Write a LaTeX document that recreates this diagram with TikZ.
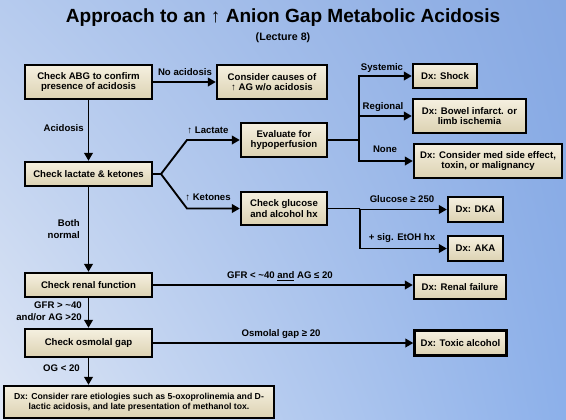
\documentclass[tikz,border=0pt]{standalone}
\usepackage{fontspec}
\setmainfont{Liberation Sans}
\usetikzlibrary{arrows.meta,shadows,shadings,positioning}

\definecolor{bgUL}{HTML}{B6CBEE}
\definecolor{bgUR}{HTML}{86A8E2}
\definecolor{bgLL}{HTML}{DFE7F5}
\definecolor{bgLR}{HTML}{8CB0EA}
\definecolor{boxtop}{HTML}{F5F0E0}
\definecolor{boxbot}{HTML}{DCD2B2}

\newcommand{\dxfont}{\bfseries\fontsize{7.2}{8}\selectfont}
\newcommand{\rarefont}{\bfseries\fontsize{6.5}{7.6}\selectfont}

\tikzset{
  wh/.style 2 args={minimum width=#1*0.75pt, minimum height=#2*0.75pt},
  dxbox/.style={draw=black, line width=1.8pt, top color=boxtop, bottom color=boxbot,
    align=center, inner sep=0pt, font=\dxfont,
    drop shadow={shadow xshift=1pt, shadow yshift=-1pt, opacity=0.3}},
  lbl/.style={inner sep=0pt, align=center, font=\bfseries\fontsize{7.2}{8.6}\selectfont},
  link/.style={line width=1.4pt},
  flow/.style={line width=1.4pt, -{Triangle[length=6pt,width=6.5pt]}},
}

\begin{document}
\begin{tikzpicture}[x=0.75pt, y=-0.75pt]
    \useasboundingbox (0,0) rectangle (566,419);
    \shade[upper left=bgUL, upper right=bgUR, lower left=bgLL, lower right=bgLR] (0,0) rectangle (566,419);

    % title
    \node[font=\bfseries\fontsize{14.3}{16}\selectfont] (title) at (283,17.5) {Approach to an ↑ Anion Gap Metabolic Acidosis};
    \node[font=\bfseries\fontsize{8}{9}\selectfont] (lecture) at (283,38) {(Lecture 8)};

    % boxes
    \node[dxbox, wh={127}{34}] (abg) at (88.5,82) {Check ABG to confirm\\presence of acidosis};
    \node[dxbox, wh={110}{34}] (noacid) at (272,82) {Consider causes of\\↑ AG w/o acidosis};
    \node[dxbox, wh={127}{24}] (lacket) at (88.5,174) {Check lactate \& ketones};
    \node[dxbox, wh={86}{34}] (hypo) at (284,140) {Evaluate for\\hypoperfusion};
    \node[dxbox, wh={86}{33}] (gluc) at (284,208.5) {Check glucose\\and alcohol hx};
    \node[dxbox, wh={64}{24}] (shock) at (445,76) {Dx: Shock};
    \node[dxbox, wh={113}{34}] (bowel) at (469.5,116) {Dx: Bowel infarct. or\\limb ischemia};
    \node[dxbox, wh={148}{34}] (medfx) at (488,161) {Dx: Consider med side effect,\\toxin, or malignancy};
    \node[dxbox, wh={55}{25}] (dka) at (475.5,209.5) {Dx: DKA};
    \node[dxbox, wh={55}{25}] (aka) at (475.5,248.5) {Dx: AKA};
    \node[dxbox, wh={127}{24}] (renal) at (88.5,285) {Check renal function};
    \node[dxbox, wh={92}{24}] (renalfx) at (460,287) {Dx: Renal failure};
    \node[dxbox, wh={127}{28}] (osmo) at (88.5,343) {Check osmolal gap};
    \node[dxbox, wh={92}{25}] (toxic) at (460.5,343) {Dx: Toxic alcohol};
    \node[dxbox, wh={270}{32}, font=\rarefont] (rare) at (139,402) {Dx: Consider rare etiologies such as 5-oxoprolinemia and D-\\lactic acidosis, and late presentation of methanol tox.};

    % labels
    \node[lbl] (noacidlbl) at (185,72) {No acidosis};
    \node[lbl, anchor=east] (acidlbl) at (84,128) {Acidosis};
    \node[lbl] (lactlbl) at (208,130) {↑ Lactate};
    \node[lbl] (ketolbl) at (208,197) {↑ Ketones};
    \node[lbl] (syslbl) at (382,68) {Systemic};
    \node[lbl] (reglbl) at (383,107) {Regional};
    \node[lbl] (nonelbl) at (385,149) {None};
    \node[lbl] (glulbl) at (402,199) {Glucose ≥ 250};
    \node[lbl] (etohlbl) at (402,238) {+ sig. EtOH hx};
    \node[lbl, align=right, anchor=east] (normlbl) at (80,229) {Both\\normal};
    \node[lbl] (gfrlbl) at (280,276) {GFR < \textasciitilde 40 \underline{and} AG ≤ 20};
    \node[lbl, align=right, anchor=east] (gfrhilbl) at (82,311) {GFR > \textasciitilde 40\\and/or AG >20};
    \node[lbl] (osmlbl) at (281,334) {Osmolal gap ≥ 20};
    \node[lbl] (oglbl) at (61.5,368) {OG < 20};

    % split points
    \coordinate (lksplit) at (161,174);
    \coordinate (lkup) at (187,140);
    \coordinate (lkdn) at (187,208.5);
    \coordinate (hysplit) at (359,140);
    \coordinate (glsplit) at (360,208.5);

    % connectors
    \draw[flow] (abg) -- (noacid);
    \draw[flow] (abg) -- (lacket);
    \draw[flow] (lacket.east) -- (lksplit) -- (lkup) -- (hypo.west);
    \draw[flow] (lksplit) -- (lkdn) -- (gluc.west);
    \draw[link] (hypo.east) -- (hysplit);
    \draw[flow] (hysplit) |- (shock.west);
    \draw[flow] (hysplit) |- (bowel.west);
    \draw[flow] (hysplit) |- (medfx.west);
    \draw[link] (gluc.east) -- (glsplit);
    \draw[flow] (glsplit) |- (dka.west);
    \draw[flow] (glsplit) |- (aka.west);
    \draw[flow] (lacket) -- (renal);
    \draw[flow] (renal.east) -- (renal.east -| renalfx.west);
    \draw[flow] (renal) -- (osmo);
    \draw[flow] (osmo) -- (toxic);
    \draw[flow] (osmo.south) -- (osmo.south |- rare.north);
\end{tikzpicture}
\end{document}
